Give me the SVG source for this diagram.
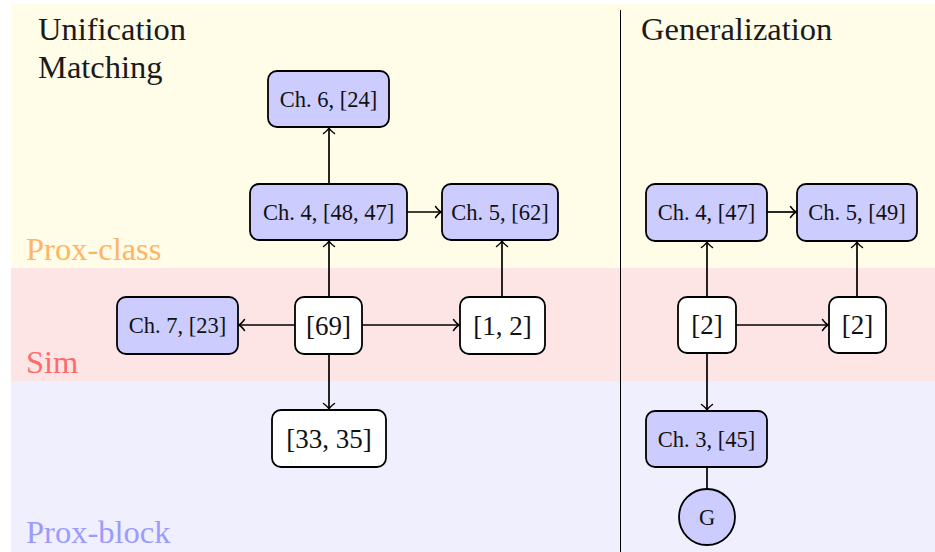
<svg xmlns="http://www.w3.org/2000/svg" width="935" height="552" viewBox="0 0 935 552">
<style>
text{font-family:'Liberation Serif','DejaVu Serif',Times,serif}
.title{font-size:32.5px;fill:#1a1a1a}
.band{font-size:32.5px}
.box{stroke:#000;stroke-width:1.8}
.blue{fill:#ccccff}
.white{fill:#fff}
.sm{font-size:22.5px;fill:#111;text-anchor:middle;dominant-baseline:central}
.lg{font-size:27px;fill:#111;text-anchor:middle;dominant-baseline:central}
.edge{stroke:#000;stroke-width:1.7;fill:none}
</style>
<defs>
<marker id="arr" markerUnits="userSpaceOnUse" markerWidth="14" markerHeight="14" viewBox="-8 -7 10 14" refX="0" refY="0" orient="auto">
<path d="M -5.5 -5.5 Q -2 -1 0 0 Q -2 1 -5.5 5.5" fill="none" stroke="#000" stroke-width="1.5" stroke-linecap="round"/>
</marker>
</defs>
<g id="background">
<rect x="11" y="4" width="924" height="264" fill="#fffce8"/>
<rect x="11" y="268" width="924" height="113" fill="#fde5e5"/>
<rect x="11" y="381" width="924" height="171" fill="#f0effe"/>
<line x1="620.5" y1="10" x2="620.5" y2="552" stroke="#000" stroke-width="1"/>
<text class="title" x="38" y="40">Unification</text>
<text class="title" x="38" y="78">Matching</text>
<text class="title" x="641" y="40">Generalization</text>
<text class="band" x="26" y="260" fill="#ffb466">Prox-class</text>
<text class="band" x="26" y="373" fill="#ff6b6b">Sim</text>
<text class="band" x="26" y="543" fill="#9b9bff">Prox-block</text>
</g>
<g id="connectors">
<line class="edge" x1="329" y1="184" x2="329" y2="128" marker-end="url(#arr)"/>
<line class="edge" x1="329" y1="297" x2="329" y2="241" marker-end="url(#arr)"/>
<line class="edge" x1="407" y1="212" x2="441" y2="212" marker-end="url(#arr)"/>
<line class="edge" x1="502" y1="297" x2="502" y2="241" marker-end="url(#arr)"/>
<line class="edge" x1="295" y1="325" x2="239" y2="325" marker-end="url(#arr)"/>
<line class="edge" x1="362" y1="325" x2="459" y2="325" marker-end="url(#arr)"/>
<line class="edge" x1="329" y1="354" x2="329" y2="409" marker-end="url(#arr)"/>
<line class="edge" x1="707" y1="297" x2="707" y2="242" marker-end="url(#arr)"/>
<line class="edge" x1="767" y1="212" x2="796" y2="212" marker-end="url(#arr)"/>
<line class="edge" x1="857" y1="297" x2="857" y2="242" marker-end="url(#arr)"/>
<line class="edge" x1="736" y1="325" x2="828" y2="325" marker-end="url(#arr)"/>
<line class="edge" x1="707" y1="353" x2="707" y2="410" marker-end="url(#arr)"/>
<line class="edge" x1="707" y1="467" x2="707" y2="489"/>
</g>
<g id="n-ch6">
<rect class="box blue" x="268" y="71" width="121" height="56" rx="9"/>
<text class="sm" x="328.5" y="99">Ch. 6, [24]</text>
</g>
<g id="n-ch4a">
<rect class="box blue" x="250" y="184" width="157" height="56" rx="9"/>
<text class="sm" x="328.5" y="212">Ch. 4, [48, 47]</text>
</g>
<g id="n-ch5a">
<rect class="box blue" x="442" y="184" width="116" height="56" rx="9"/>
<text class="sm" x="500" y="212">Ch. 5, [62]</text>
</g>
<g id="n-ch7">
<rect class="box blue" x="117" y="297" width="121" height="57" rx="9"/>
<text class="sm" x="177.5" y="325.5">Ch. 7, [23]</text>
</g>
<g id="n-69">
<rect class="box white" x="295" y="297" width="67" height="57" rx="9"/>
<text class="lg" x="328.5" y="325.5">[69]</text>
</g>
<g id="n-12">
<rect class="box white" x="460" y="297" width="85" height="57" rx="9"/>
<text class="lg" x="502.5" y="325.5">[1, 2]</text>
</g>
<g id="n-3335">
<rect class="box white" x="272" y="410" width="114" height="57" rx="9"/>
<text class="lg" x="329" y="438.5">[33, 35]</text>
</g>
<g id="n-ch4b">
<rect class="box blue" x="646" y="184" width="121" height="57" rx="9"/>
<text class="sm" x="706.5" y="212.5">Ch. 4, [47]</text>
</g>
<g id="n-ch5b">
<rect class="box blue" x="797" y="184" width="120" height="57" rx="9"/>
<text class="sm" x="857" y="212.5">Ch. 5, [49]</text>
</g>
<g id="n-2a">
<rect class="box white" x="678" y="297" width="58" height="56" rx="9"/>
<text class="lg" x="707" y="325">[2]</text>
</g>
<g id="n-2b">
<rect class="box white" x="829" y="297" width="57" height="56" rx="9"/>
<text class="lg" x="857.5" y="325">[2]</text>
</g>
<g id="n-ch3">
<rect class="box blue" x="646" y="411" width="121" height="56" rx="9"/>
<text class="sm" x="706.5" y="439">Ch. 3, [45]</text>
</g>
<g id="n-g">
<circle class="box blue" cx="707" cy="517" r="28"/>
<text class="sm" x="707" y="517">G</text>
</g>
</svg>
